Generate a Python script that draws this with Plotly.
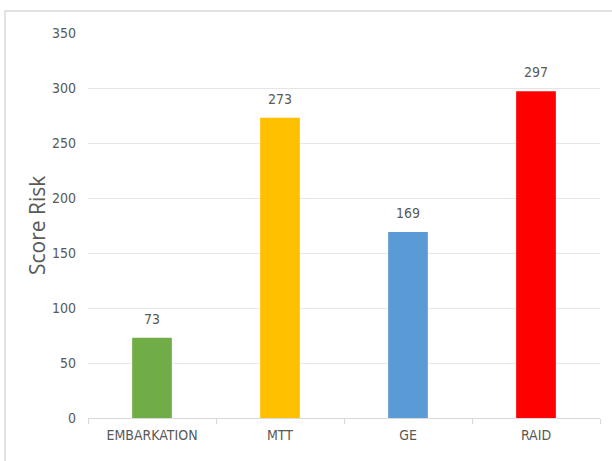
import plotly.graph_objects as go

categories = ["EMBARKATION", "MTT", "GE", "RAID"]
scores = [73, 273, 169, 297]
bar_colors = ["#70AD47", "#FFC000", "#5B9BD5", "#FF0000"]
y_ticks = [0, 50, 100, 150, 200, 250, 300, 350]

W, H = 612, 461
ml, mr, mt, mb = 88, 12, 33, 43
pw = W - ml - mr
ph = H - mt - mb

tick_font = dict(family="DejaVu Sans Condensed, Liberation Sans, sans-serif", size=14, color="#595959")

fig = go.Figure(
    go.Bar(
        x=categories,
        y=scores,
        marker=dict(color=bar_colors, line=dict(width=0)),
        width=0.31,
        hoverinfo="skip",
    )
)

# value labels above each bar
for cat, val in zip(categories, scores):
    fig.add_annotation(
        x=cat, y=val, text=str(val), showarrow=False,
        yanchor="bottom", yshift=9, font=tick_font,
    )

# y-axis title
fig.add_annotation(
    xref="paper", yref="paper", x=(37 - ml) / pw, y=(H - mb - 226) / ph,
    xanchor="center", yanchor="middle",
    text="Score Risk", textangle=-90, showarrow=False,
    font=dict(family="Open Sans, Liberation Sans, sans-serif", size=21, color="#595959"),
)

# outer chart frame
fig.add_shape(
    type="rect", xref="paper", yref="paper",
    x0=(5 - ml) / pw, x1=(W + 20 - ml) / pw,
    y0=-(mb + 20) / ph, y1=1 + (mt - 11) / ph,
    line=dict(color="#D9D9D9", width=1.5), fillcolor="rgba(0,0,0,0)",
    layer="below",
)

fig.update_layout(
    width=W, height=H,
    margin=dict(l=ml, r=mr, t=mt, b=mb),
    paper_bgcolor="white", plot_bgcolor="white",
    showlegend=False,
    xaxis=dict(
        type="category", tickfont=tick_font,
        showline=True, linecolor="#D9D9D9", linewidth=1,
        ticks="outside", tickson="boundaries", ticklen=5, tickcolor="#D9D9D9",
        showgrid=False, ticklabelstandoff=4,
    ),
    yaxis=dict(
        range=[0, 350], tickvals=y_ticks, tickfont=tick_font,
        showgrid=True, gridcolor="#E6E6E6", gridwidth=1,
        zeroline=False, showline=False, ticks="", ticklabelstandoff=11,
    ),
)

fig.write_html("out.html")
